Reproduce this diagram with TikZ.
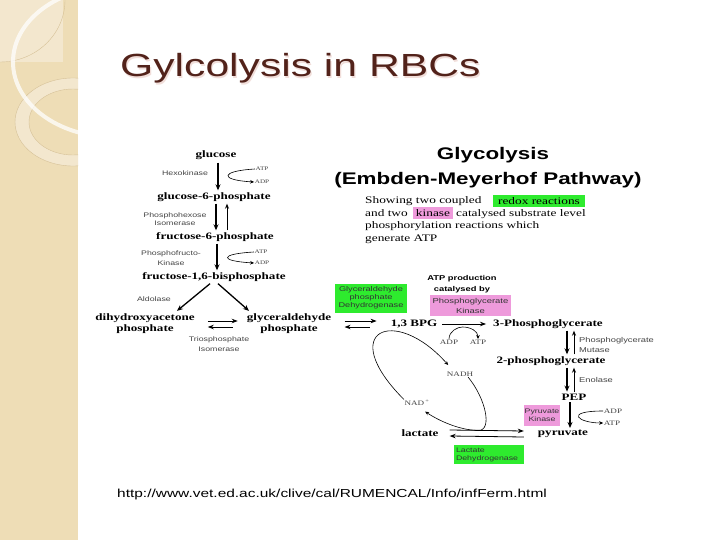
\documentclass[tikz,border=0pt]{standalone}
\usepackage{fontspec}
\setmainfont{Liberation Serif}[FakeStretch=1.333]
\setsansfont{Liberation Sans}[FakeStretch=1.333]
\usetikzlibrary{arrows.meta, positioning, calc}
\definecolor{StripBeige}{HTML}{EEDDB6}
\definecolor{StripLight}{HTML}{F3E7CE}
\definecolor{StripLine}{HTML}{D6C197}
\definecolor{TitleBrown}{HTML}{52221A}
\definecolor{TitleShade}{HTML}{F1DEDA}
\definecolor{EnzGreen}{HTML}{2EEB2E}
\definecolor{EnzPink}{HTML}{EE9ADB}
\definecolor{LabelGray}{HTML}{444444}

\begin{document}
\begin{tikzpicture}[x=1pt, y=-1pt,
  met/.style={font=\bfseries\fontsize{9.8}{11}\selectfont, inner sep=1pt, align=center},
  enz/.style={font=\sffamily\fontsize{6.6}{9.5}\selectfont, text=LabelGray, align=center, inner sep=0pt},
  cof/.style={font=\fontsize{5.4}{6}\selectfont, text=LabelGray, inner sep=0.5pt},
  cofr/.style={font=\fontsize{6.8}{7}\selectfont, text=LabelGray, inner sep=0.5pt},
  enzbox/.style={font=\sffamily\fontsize{6.6}{8}\selectfont, text=black!80, align=center, inner sep=0pt},
  txt/.style={font=\fontsize{10}{12}\selectfont, anchor=base west, inner sep=0pt},
  rxn/.style={-{Stealth[length=6pt, width=5pt]}, line width=1.3pt},
  rxnup/.style={-{Stealth[length=5pt, width=4pt]}, line width=0.9pt},
  rxnthin/.style={-{Stealth[length=6pt, width=4.5pt]}, line width=0.8pt},
  cofarr/.style={-{Stealth[length=4pt, width=3.5pt]}, line width=0.6pt},
  ]
  \useasboundingbox (0,0) rectangle (720,540);
  \fill[white] (0,0) rectangle (720,540);

  % side strip of the slide
  \begin{scope}
    \clip (0,0) rectangle (78,540);
    \fill[StripBeige] (0,0) rectangle (78,540);
    \fill[StripLight] (0,0) rectangle (63,62);
    \draw[StripLine, line width=0.4pt] (0,0) ellipse [x radius=65, y radius=62];
    \fill[StripLight, even odd rule] (73,122) ellipse [x radius=58, y radius=44]
      (73,122) ellipse [x radius=44, y radius=33];
    \draw[StripLine, line width=0.4pt] (73,122) ellipse [x radius=58, y radius=44]
      (73,122) ellipse [x radius=44, y radius=33];
    \draw[white, line width=4pt, opacity=0.75] (113,62) ellipse [x radius=100, y radius=75];
  \end{scope}

  % title
  \node[font=\sffamily\fontsize{32}{32}\selectfont, text=TitleShade, anchor=base west, inner sep=0pt]
    (titleshade) at (121.2,78.2) {Gylcolysis in RBCs};
  \node[font=\sffamily\fontsize{32}{32}\selectfont, text=TitleBrown, anchor=base west, inner sep=0pt]
    (title) at (120,77) {Gylcolysis in RBCs};

  % heading and note
  \node[font=\sffamily\bfseries\fontsize{16.8}{17}\selectfont, inner sep=0pt] (gtitle) at (493,155) {Glycolysis};
  \node[font=\sffamily\bfseries\fontsize{16.8}{17}\selectfont, inner sep=0pt] (emp) at (488,180) {(Embden-Meyerhof Pathway)};
  \node[txt] (par1) at (365,204) {Showing two coupled};
  \node[fill=EnzGreen, minimum width=92, minimum height=12, inner sep=0pt, font=\fontsize{10}{12}\selectfont] (redox) at (539,201) {redox reactions};
  \node[txt] (par2a) at (365,216.5) {and two};
  \node[fill=EnzPink, minimum width=40, minimum height=12, inner sep=0pt, font=\fontsize{10}{12}\selectfont] (kinase) at (433,213.5) {kinase};
  \node[txt] (par2b) at (456,216.5) {catalysed substrate level};
  \node[txt] (par3) at (365,229) {phosphorylation reactions which};
  \node[txt] (par4) at (365,241) {generate ATP};

  % upper part of the pathway
  \node[met] (glc) at (216,155) {glucose};
  \node[enz] (hk) at (185,173) {Hexokinase};
  \node[cof] (atp1) at (262,169) {ATP};
  \node[cof] (adp1) at (262,182) {ADP};
  \node[met] (g6p) at (214,197) {glucose-6-phosphate};
  \node[enz, font=\sffamily\fontsize{6.6}{8.5}\selectfont] (phi) at (175,219) {Phosphohexose\\Isomerase};
  \node[met] (f6p) at (215,237) {fructose-6-phosphate};
  \node[enz] (pfk) at (171,258) {Phosphofructo-\\Kinase};
  \node[cof] (atp2) at (261,252) {ATP};
  \node[cof] (adp2) at (262,263) {ADP};
  \node[met] (f16bp) at (214,277) {fructose-1,6-bisphosphate};
  \node[enz] (ald) at (154,299) {Aldolase};
  \node[met] (dhap) at (145,324) {dihydroxyacetone\\phosphate};
  \node[met] (gap) at (289,324) {glyceraldehyde\\phosphate};
  \node[enz] (tpi) at (219,344) {Triosphosphate\\Isomerase};

  \draw[rxn] ($(glc.south)+(2,2)$) -- ($(glc.south |- g6p.north)+(2,-1)$);
  \draw[cofarr] (atp1.west) .. controls +(-35,2) and +(-35,-2) .. (adp1.west);
  \draw[rxn] ($(g6p.south)+(2,1)$) -- ($(g6p.south |- f6p.north)+(2,-1)$);
  \draw[rxnup] ($(g6p.south |- f6p.north)+(13,-1)$) -- ($(g6p.south)+(13,1)$);
  \draw[rxn] ($(f6p.south)+(2,1)$) -- ($(f6p.south |- f16bp.north)+(2,-1)$);
  \draw[cofarr] (atp2.west) .. controls +(-35,2) and +(-35,-2) .. (adp2.west);
  \draw[rxn] ($(f16bp.south)+(-4,1)$) -- ($(dhap.north)+(32,-2)$);
  \draw[rxn] ($(f16bp.south)+(4,1)$) -- ($(gap.north)+(-40,-2)$);
  \draw[rxnthin] ($(dhap.east)+(12,-3)$) -- ($(gap.west)+(-8,-3)$);
  \draw[rxnthin] ($(gap.west)+(-13,3)$) -- ($(dhap.east)+(12,3)$);

  % lower part of the pathway
  \node[enzbox, fill=EnzGreen, minimum width=72, minimum height=29, font=\sffamily\fontsize{6.9}{8}\selectfont]
    (gapdh) at (371,298) {Glyceraldehyde\\phosphate\\Dehydrogenase};
  \node[font=\sffamily\bfseries\fontsize{7}{11}\selectfont, align=center, inner sep=0pt] (atpprod) at (462,284) {ATP production\\catalysed by};
  \node[enzbox, fill=EnzPink, minimum width=81, minimum height=21, font=\sffamily\fontsize{7.1}{10}\selectfont]
    (pgk) at (470.5,305.5) {Phosphoglycerate\\Kinase};
  \node[met] (bpg) at (414,324) {1,3 BPG};
  \node[met] (pg3) at (548,324) {3-Phosphoglycerate};
  \node[cofr] (adp3) at (449,342) {ADP};
  \node[cofr] (atp3) at (478,342) {ATP};
  \coordinate (kin3) at ($(bpg.east)!0.45!(pg3.west)+(0,3)$);
  \node[met] (pg2) at (551,361) {2-phosphoglycerate};
  \node[enz, align=left, anchor=west, font=\sffamily\fontsize{7}{10}\selectfont] (pgm) at (579,345) {Phosphoglycerate\\Mutase};
  \node[met] (pep) at (574,397) {PEP};
  \node[enz, anchor=west, font=\sffamily\fontsize{7}{10}\selectfont] (eno) at (579,380) {Enolase};
  \node[enzbox, fill=EnzPink, minimum width=36, minimum height=21] (pk) at (542,415.5) {Pyruvate\\Kinase};
  \node[cofr] (adp4) at (613,411) {ADP};
  \node[cofr] (atp4) at (612,423) {ATP};
  \node[met] (pyr) at (563,434) {pyruvate};
  \node[met] (lac) at (420,433) {lactate};
  \node[enzbox, fill=EnzGreen, minimum width=70, minimum height=19, align=left, text width=66]
    (ldh) at (489,454.5) {Lactate\\Dehydrogenase};
  \node[cofr] (nadh) at (460,374) {NADH};
  \node[cofr] (nad) at (417,403) {NAD\,\textsuperscript{+}};
  \coordinate (ldhjoin) at ($(lac.east)!0.4!(pyr.west)+(0,-3)$);
  \coordinate (nadin) at ($(nad.south east)+(-5,5)$);
  \coordinate (nadhin) at ($(nadh.north west)+(2,-6)$);

  \draw[rxnthin] ($(bpg.west)+(-45,-3)$) -- ($(bpg.west)+(-13,-3)$);
  \draw[rxnthin] ($(bpg.west)+(-20,3)$) -- ($(bpg.west)+(-45,3)$);
  \draw[rxnthin] ($(bpg.east)+(4,0)$) -- ($(pg3.west)+(-6,0)$);
  \draw[line width=0.6pt] (adp3.north) .. controls +(0,-8) and +(-5,0) .. (kin3);
  \draw[cofarr] (kin3) .. controls +(8,0) and +(0,-8) .. (atp3.north);
  \draw[rxn] ($(pg3.south)+(19,1)$) -- ($(pg3.south |- pg2.north)+(19,-1)$);
  \draw[rxnup] ($(pg3.south |- pg2.north)+(26,-1)$) -- ($(pg3.south)+(26,1)$);
  \draw[rxn] ($(pg2.south)+(16,1)$) -- ($(pg2.south |- pep.north)+(16,-1)$);
  \draw[rxnup] ($(pg2.south |- pep.north)+(23,-1)$) -- ($(pg2.south)+(23,1)$);
  \draw[rxn] ($(pep.south)+(-4,1)$) -- ($(pep.south |- pyr.north)+(-4,-1)$);
  \draw[cofarr] (adp4.west) .. controls +(-40,0) and +(-25,0) .. (atp4.west);
  \draw[rxnthin] ($(lac.east)+(10,-3)$) -- ($(pyr.west)+(-13,-3)$);
  \draw[rxnthin] ($(pyr.west)+(-13,3)$) -- ($(lac.east)+(10,3)$);
  \draw[line width=0.6pt] ($(nadh.south)+(8,0)$) .. controls +(18,22) and +(14,0) .. (ldhjoin);
  \draw[cofarr] (ldhjoin) .. controls +(-20,0) and +(12,8) .. (nadin);
  \draw[cofarr] (nad.north west) .. controls (335,330) and (395,305) .. (nadhin);

  % source
  \node[font=\sffamily\fontsize{11.6}{12}\selectfont, anchor=west, inner sep=0pt] (url) at (117,494)
    {http://www.vet.ed.ac.uk/clive/cal/RUMENCAL/Info/infFerm.html};
\end{tikzpicture}
\end{document}
